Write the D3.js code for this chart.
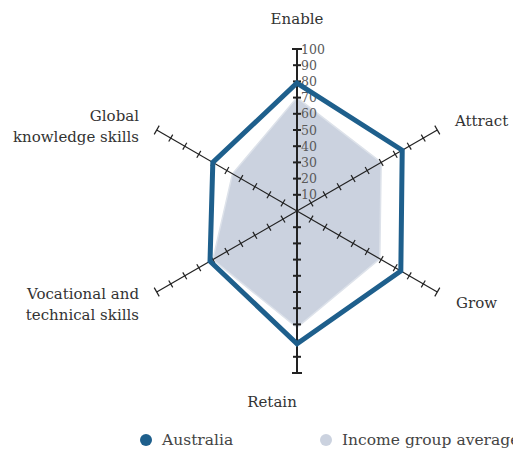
<!DOCTYPE html>
<html><head><meta charset="utf-8">
<script src="https://cdn.jsdelivr.net/npm/d3@7/dist/d3.min.js"></script>
<style>body{margin:0;background:#fff}svg{display:block}</style>
</head><body><svg id="c" width="513" height="452"></svg>
<script>
const axes = ["Enable","Attract","Grow","Retain","Vocational and technical skills","Global knowledge skills"];
const australia = [79, 75, 74, 82, 62, 60];
const incomeAvg = [70, 60, 59, 72, 60, 46];
const tickValues = [10,20,30,40,50,60,70,80,90,100];
const seriesNames = ["Australia","Income group average"];

const svg = d3.select("#c");
const cx = 297, cy = 211, R = 162;
const r = d3.scaleLinear().domain([0,100]).range([0,R]);
const ang = i => -Math.PI/2 + i*Math.PI/3;
const pt = (i,v) => [cx + r(v)*Math.cos(ang(i)), cy + r(v)*Math.sin(ang(i))];
const font = "'DejaVu Serif', serif";

svg.append("path")
  .attr("d", d3.line()(incomeAvg.map((v,i)=>pt(i,v))) + "Z")
  .attr("fill","#cbd2df").attr("stroke","#dde2ea").attr("stroke-width",1.5);

axes.forEach((a,i)=>{
  const [x2,y2] = pt(i,100);
  const vertical = (i===0||i===3);
  svg.append("line").attr("x1",cx).attr("y1",cy).attr("x2",x2).attr("y2",y2)
    .attr("stroke","#222").attr("stroke-width", vertical?2:1.2);
  const a0 = ang(i), px = -Math.sin(a0), py = Math.cos(a0);
  tickValues.forEach(t=>{
    const [tx,ty] = pt(i,t);
    const h = t===100 ? 5 : 4;
    svg.append("line").attr("x1",tx-px*h).attr("y1",ty-py*h).attr("x2",tx+px*h).attr("y2",ty+py*h)
      .attr("stroke","#222").attr("stroke-width", vertical?2:1.2);
  });
});

tickValues.forEach(t=>{
  const [tx,ty] = pt(0,t);
  svg.append("text").attr("x",tx+4).attr("y",ty).attr("dy","0.36em")
    .attr("font-family",font).attr("font-size",12.5).attr("fill","#5a5a5a").text(t);
});

svg.append("path")
  .attr("d", d3.line()(australia.map((v,i)=>pt(i,v))) + "Z")
  .attr("fill","none").attr("stroke","#1e5f8c").attr("stroke-width",5).attr("stroke-linejoin","miter");

const lab = [
  {lines:["Enable"], x:297, y:24, anchor:"middle"},
  {lines:["Attract"], x:455, y:126, anchor:"start"},
  {lines:["Grow"], x:456, y:308, anchor:"start"},
  {lines:["Retain"], x:272, y:407, anchor:"middle"},
  {lines:["Vocational and","technical skills"], x:139, y:299, anchor:"end"},
  {lines:["Global","knowledge skills"], x:139, y:121, anchor:"end"}
];
lab.forEach(l=>{
  const t = svg.append("text").attr("x",l.x).attr("y",l.y).attr("text-anchor",l.anchor)
    .attr("font-family",font).attr("font-size",15).attr("fill","#333");
  l.lines.forEach((s,k)=>t.append("tspan").attr("x",l.x).attr("dy",k?21:0).text(s));
});

const legColors = ["#1e5f8c","#cbd2df"];
const legX = [146, 326];
seriesNames.forEach((s,k)=>{
  svg.append("circle").attr("cx",legX[k]).attr("cy",440).attr("r",6).attr("fill",legColors[k]);
  svg.append("text").attr("x",legX[k]+16).attr("y",445).attr("font-family",font)
    .attr("font-size",15.5).attr("fill","#444").text(s);
});
</script></body></html>
